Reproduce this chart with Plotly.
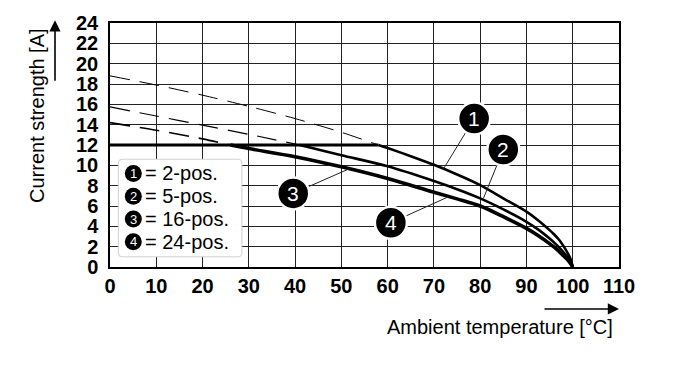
import plotly.graph_objects as go

# ---- data ----
x_ticks = [0, 10, 20, 30, 40, 50, 60, 70, 80, 90, 100, 110]
y_ticks = [0, 2, 4, 6, 8, 10, 12, 14, 16, 18, 20, 22, 24]

# dashed extrapolations (above the 12 A limit)
t1_dash = [0, 10, 20, 30, 40, 50, 58]
i1_dash = [18.8, 17.9, 16.9, 15.8, 14.6, 13.25, 12.0]
t2_dash = [0, 10, 20, 30, 41]
i2_dash = [15.75, 14.85, 13.95, 13.05, 12.0]
t34_dash = [0, 10, 20, 26]
i34_dash = [14.2, 13.45, 12.6, 12.0]

# 12 A limit line
t_limit = [0, 58]
i_limit = [12, 12]

# derating curves (solid)
t1 = [58, 60, 65, 70, 75, 80, 85, 90, 92.5, 95, 96, 97, 98, 99, 99.6, 100]
i1 = [12.0, 11.7, 10.9, 10.05, 9.1, 8.05, 6.75, 5.44, 4.6, 3.63, 3.2, 2.7, 2.05, 1.3, 0.7, 0]
t2 = [41, 50, 60, 70, 75, 80, 85, 90, 92.5, 95, 96, 97, 98, 99, 99.6, 100]
i2 = [12.0, 11.0, 9.9, 8.45, 7.65, 6.75, 5.67, 4.45, 3.7, 2.8, 2.4, 1.95, 1.45, 0.9, 0.45, 0]
t34 = [26, 30, 40, 50, 60, 70, 75, 80, 85, 90, 92.5, 95, 96, 97, 98, 99, 99.6, 100]
i34 = [12.0, 11.65, 10.85, 9.85, 8.7, 7.35, 6.7, 6.0, 4.95, 3.8, 3.1, 2.3, 1.95, 1.55, 1.1, 0.65, 0.3, 0]

legend_nums = ["1", "2", "3", "4"]
legend_text = ["= 2-pos.", "= 5-pos.", "= 16-pos.", "= 24-pos."]
legend_y = [9.2, 6.97, 4.72, 2.49]

label_nums = ["1", "2", "3", "4"]
label_x = [78.7, 85.0, 39.6, 60.7]
label_y = [14.6, 11.56, 7.24, 4.35]
target_x = [72.0, 80.7, 51.9, 73.1]
target_y = [9.6, 6.75, 9.7, 6.9]

FONT = "Liberation Sans, Arial, Helvetica, sans-serif"

fig = go.Figure()

dash_style = "20px,10px"
fig.add_trace(go.Scatter(x=t1_dash, y=i1_dash, mode="lines",
                         line=dict(color="black", width=1, dash=dash_style, shape="spline", smoothing=0.8)))
fig.add_trace(go.Scatter(x=t2_dash, y=i2_dash, mode="lines",
                         line=dict(color="black", width=1.2, dash=dash_style, shape="spline", smoothing=0.8)))
fig.add_trace(go.Scatter(x=t34_dash, y=i34_dash, mode="lines",
                         line=dict(color="black", width=1.6, dash=dash_style, shape="spline", smoothing=0.8)))
fig.add_trace(go.Scatter(x=t_limit, y=i_limit, mode="lines",
                         line=dict(color="black", width=2.8)))
fig.add_trace(go.Scatter(x=t1, y=i1, mode="lines",
                         line=dict(color="black", width=2.6, shape="spline", smoothing=0.9)))
fig.add_trace(go.Scatter(x=t2, y=i2, mode="lines",
                         line=dict(color="black", width=2.6, shape="spline", smoothing=0.9)))
fig.add_trace(go.Scatter(x=t34, y=i34, mode="lines",
                         line=dict(color="black", width=3.6, shape="spline", smoothing=0.9)))

shapes = []
annotations = []

# pointer lines
for lx, ly, tx, ty in zip(label_x, label_y, target_x, target_y):
    shapes.append(dict(type="line", xref="x", yref="y", x0=lx, y0=ly, x1=tx, y1=ty,
                       line=dict(color="#222", width=1), layer="above"))

# label circles
for n, lx, ly in zip(label_nums, label_x, label_y):
    shapes.append(dict(type="circle", xref="x", yref="y", xsizemode="pixel", ysizemode="pixel",
                       xanchor=lx, yanchor=ly, x0=-16, x1=16, y0=-16, y1=16,
                       fillcolor="black", line=dict(color="white", width=2.5), layer="above"))
    annotations.append(dict(x=lx, y=ly, xref="x", yref="y", text=n, showarrow=False,
                            font=dict(family=FONT, size=21, color="white"),
                            xanchor="center", yanchor="middle"))

# legend box with rounded corners
x0, x1, y0, y1 = 1.8, 28.5, 1.0, 10.6
rx, ry = 0.8, 0.36
path = (f"M {x0+rx},{y0} L {x1-rx},{y0} Q {x1},{y0} {x1},{y0+ry} "
        f"L {x1},{y1-ry} Q {x1},{y1} {x1-rx},{y1} L {x0+rx},{y1} Q {x0},{y1} {x0},{y1-ry} "
        f"L {x0},{y0+ry} Q {x0},{y0} {x0+rx},{y0} Z")
shapes.append(dict(type="path", xref="x", yref="y", path=path, fillcolor="white",
                   line=dict(color="#d0d0d0", width=1), layer="above"))

for n, t, ly in zip(legend_nums, legend_text, legend_y):
    shapes.append(dict(type="circle", xref="x", yref="y", xsizemode="pixel", ysizemode="pixel",
                       xanchor=5.04, yanchor=ly, x0=-8.5, x1=8.5, y0=-8.5, y1=8.5,
                       fillcolor="black", line=dict(color="black", width=0), layer="above"))
    annotations.append(dict(x=5.04, y=ly, xref="x", yref="y", text=n, showarrow=False,
                            font=dict(family=FONT, size=13, color="white"),
                            xanchor="center", yanchor="middle"))
    annotations.append(dict(x=7.2, y=ly, xref="x", yref="y", text=t, showarrow=False,
                            font=dict(family=FONT, size=20, color="black"),
                            xanchor="left", yanchor="middle"))

# axis titles with arrows
annotations.append(dict(x=-0.142, y=0.622, xref="paper", yref="paper",
                        text="Current strength [A]", showarrow=False, textangle=-90,
                        font=dict(family=FONT, size=20, color="black"),
                        xanchor="center", yanchor="middle"))
annotations.append(dict(x=(55 - 110) / 509, y=(267 - 20) / 244.3, xref="paper", yref="paper",
                        ax=0, ay=62, axref="pixel", ayref="pixel", text="",
                        showarrow=True, arrowhead=2, arrowsize=1.4, arrowwidth=1.6,
                        arrowcolor="black"))
annotations.append(dict(x=0.766, y=-0.2456, xref="paper", yref="paper",
                        text="Ambient temperature [°C]", showarrow=False,
                        font=dict(family=FONT, size=20, color="black"),
                        xanchor="center", yanchor="middle"))
annotations.append(dict(x=(619 - 110) / 509, y=(267 - 309) / 244.3, xref="paper", yref="paper",
                        ax=-76, ay=0, axref="pixel", ayref="pixel", text="",
                        showarrow=True, arrowhead=2, arrowsize=1.4, arrowwidth=1.6,
                        arrowcolor="black"))

fig.update_layout(
    width=700, height=366,
    margin=dict(l=110, r=81, t=23, b=99),
    paper_bgcolor="white", plot_bgcolor="white",
    showlegend=False,
    shapes=shapes, annotations=annotations,
    xaxis=dict(range=[0, 110], tickvals=x_ticks, ticktext=[f"<b>{v}</b>" for v in x_ticks],
               showgrid=True, gridcolor="#222", gridwidth=1,
               showline=True, mirror=True, linecolor="black", linewidth=1.5,
               zeroline=False, ticks="", automargin=False,
               tickfont=dict(family=FONT, size=20, color="black")),
    yaxis=dict(range=[0, 24], tickvals=y_ticks, ticktext=[f"<b>{v}</b>" for v in y_ticks],
               showgrid=True, gridcolor="#222", gridwidth=1,
               showline=True, mirror=True, linecolor="black", linewidth=1.5,
               zeroline=False, ticks="", ticklabelstandoff=6, automargin=False,
               tickfont=dict(family=FONT, size=20, color="black")),
)

fig.write_html("out.html", config={"displayModeBar": False},
               post_script="document.body.style.margin='0';document.body.style.padding='0';")
